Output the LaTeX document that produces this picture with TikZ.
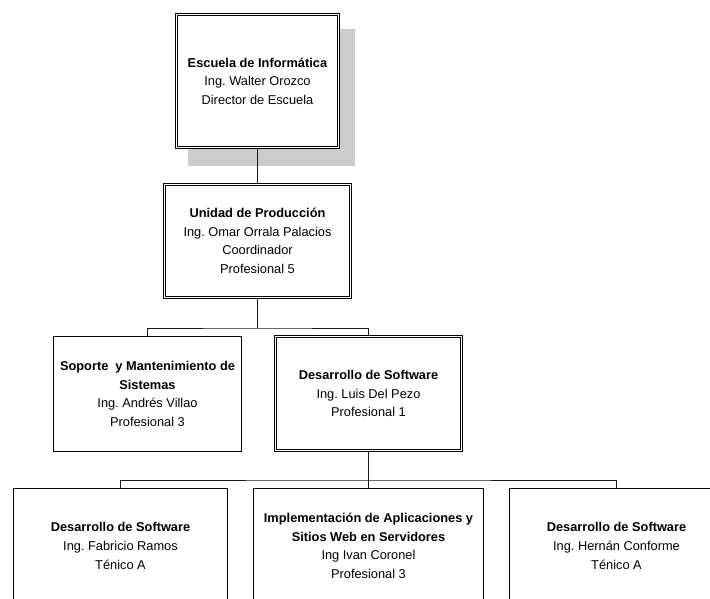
\documentclass[tikz,border=0pt]{standalone}
\usepackage{fontspec}
\setmainfont{Liberation Sans}
\usetikzlibrary{calc,positioning}
\frenchspacing

\begin{document}
\begin{tikzpicture}[
  x=1pt, y=-1pt,
  font=\fontsize{12.8}{18.6}\selectfont,
  unit/.style={draw=black, line width=0.9pt, fill=white, align=center, inner sep=2pt},
  jefe/.style={unit, double=white, double distance=1.6pt, line width=0.75pt},
  shadowbox/.style={fill=black!20, draw=none},
  link/.style={draw=black!90, line width=1pt}
]
\useasboundingbox (0,0) rectangle (710,598);
\clip (0,0) rectangle (710,598);

% Dirección, con su sombra gris detrás.
\fill[shadowbox] (188,29) rectangle (355,166);
\node[jefe, minimum width=162pt, minimum height=133pt] (escuela) at (257.5,81)
  {\textbf{Escuela de Informática}\\Ing. Walter Orozco\\Director de Escuela};
\node[jefe, minimum width=186pt, minimum height=113pt] (unidad) at (257.5,241)
  {\textbf{Unidad de Producción}\\Ing. Omar Orrala Palacios\\Coordinador\\Profesional 5};

% Segundo nivel.
\node[unit, minimum width=188pt, minimum height=115pt] (soporte) at (147.5,394)
  {\textbf{Soporte~ y Mantenimiento de}\\\textbf{Sistemas}\\Ing. Andrés Villao\\Profesional 3};
\node[jefe, minimum width=186pt, minimum height=114pt] (desarrollo) at (368.5,393.5)
  {\textbf{Desarrollo de Software}\\Ing. Luis Del Pezo\\Profesional 1};

% Tercer nivel, cortado por el borde inferior.
\node[unit, minimum width=214pt, minimum height=115pt] (fabricio) at (120.5,546)
  {\textbf{Desarrollo de Software}\\Ing. Fabricio Ramos\\Ténico A};
\node[unit, minimum width=230pt, minimum height=115pt] (ivan) at (368.5,546)
  {\textbf{Implementación de Aplicaciones y}\\\textbf{Sitios Web en Servidores}\\Ing Ivan Coronel\\Profesional 3};
\node[unit, minimum width=214pt, minimum height=115pt] (hernan) at (616.5,546)
  {\textbf{Desarrollo de Software}\\Ing. Hernán Conforme\\Ténico A};

% Conectores.
\coordinate (rama1) at (257.5,328);
\coordinate (rama2) at (368.5,480);
\draw[link] (escuela) -- (unidad);
\draw[link] (unidad) -- (rama1);
\draw[link] (soporte.north) |- (rama1) -| (desarrollo.north);
\draw[link] (desarrollo) -- (rama2);
\draw[link] (fabricio.north) |- (rama2) -| (hernan.north);
\draw[link] (rama2) -- (ivan.north);

\end{tikzpicture}
\end{document}
